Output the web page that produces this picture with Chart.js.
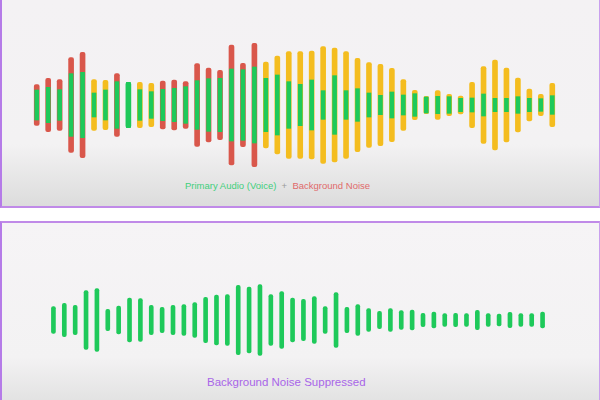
<!DOCTYPE html>
<html><head><meta charset="utf-8">
<script src="https://cdn.jsdelivr.net/npm/chart.js@4"></script>
<style>
body{margin:0;width:600px;height:400px;background:#fff;position:relative;overflow:hidden;font-family:"Liberation Sans",Arial,sans-serif}
#p1{position:absolute;left:0;top:0;width:597px;height:206px;border-left:2px solid #b57be8;border-right:1px solid #c9a0ee;border-bottom:2px solid #c08ae8;background:linear-gradient(#f4f2f4 0%,#f3f2f3 70%,#dcdcdc 100%)}
#p2{position:absolute;left:0;top:221px;width:597px;height:179px;border-left:2px solid #b57be8;border-right:1px solid #c9a0ee;border-top:2px solid #c08ae8;background:linear-gradient(#f6f4f6 0%,#f3f2f3 75%,#e2e2e2 100%)}
.cap{position:absolute;font-size:9.5px;white-space:nowrap}
</style></head><body>
<div id="p1"></div><div id="p2"></div>
<div style="position:absolute;left:31px;top:30px;width:527px;height:150px"><canvas id="c1"></canvas></div>
<div style="position:absolute;left:48px;top:270px;width:500px;height:100px"><canvas id="c2"></canvas></div>
<div class="cap" style="left:185px;top:180px"><span style="color:#3fcf7c">Primary Audio (Voice)</span> <span style="color:#999">&nbsp;+&nbsp;</span> <span style="color:#e06a6a">Background Noise</span></div>
<div class="cap" style="left:207px;top:376px;color:#a865e8;font-size:11.5px">Background Noise Suppressed</div>
<script>
const voiceTop=[45,53,46,94,98,36,45,70,68,46,40,47,50,55,73,79,80,108,106,114,80,90,70,62,75,43,88,43,49,36,29,39,30,34,24,26,25,20,21,33,20,20,25,20,19,28];
const noiseTop=[61,80,76,142,158,76,74,94,68,68,65,72,75,70,124,111,104,180,125,185,129,147,160,160,162,175,171,160,140,127,122,110,76,44,26,43,32,27,68,115,135,111,81,48,32,65];
const noiseKind=['r','r','r','r','r','y','y','r','g','y','y','r','r','r','r','r','r','r','r','r','y','y','y','y','y','y','y','y','y','y','y','y','y','y','y','y','y','y','y','y','y','y','y','y','y','y'];
const voiceBottom=[40,50,44,88,94,32,42,66,64,44,38,44,46,52,68,75,76,104,99,106,76,85,66,62,70,40,82,38,46,34,26,34,28,30,20,24,19,20,19,29,19,18,23,19,19,24];
const GREEN='#1ec95a',RED='#d9574b',YELLOW='#f4bd1f';
const labels1=voiceTop.map((_,i)=>i+1), labels2=voiceBottom.map((_,i)=>i+1);
const kindColor={r:RED,y:YELLOW,g:GREEN};
function opts(max){return{responsive:true,maintainAspectRatio:false,animation:false,
 plugins:{legend:{display:false},tooltip:{enabled:false}},
 layout:{padding:0},
 scales:{x:{display:false,stacked:false},y:{display:false,min:-max,max:max}}};}
new Chart(document.getElementById('c1'),{type:'bar',data:{labels:labels1,datasets:[
 {data:noiseTop.map(v=>[-v/3,v/3]),backgroundColor:noiseKind.map(k=>kindColor[k]),barThickness:5,borderRadius:2,borderSkipped:false,grouped:false,order:2},
 {data:voiceTop.map(v=>[-v/3,v/3]),backgroundColor:GREEN,barThickness:4,borderRadius:0,borderSkipped:false,grouped:false,order:1}
]},options:opts(75)});
new Chart(document.getElementById('c2'),{type:'bar',data:{labels:labels2,datasets:[
 {data:voiceBottom.map(v=>[-v/3,v/3]),backgroundColor:GREEN,barThickness:4,borderRadius:2,borderSkipped:false}
]},options:opts(50)});
</script></body></html>
